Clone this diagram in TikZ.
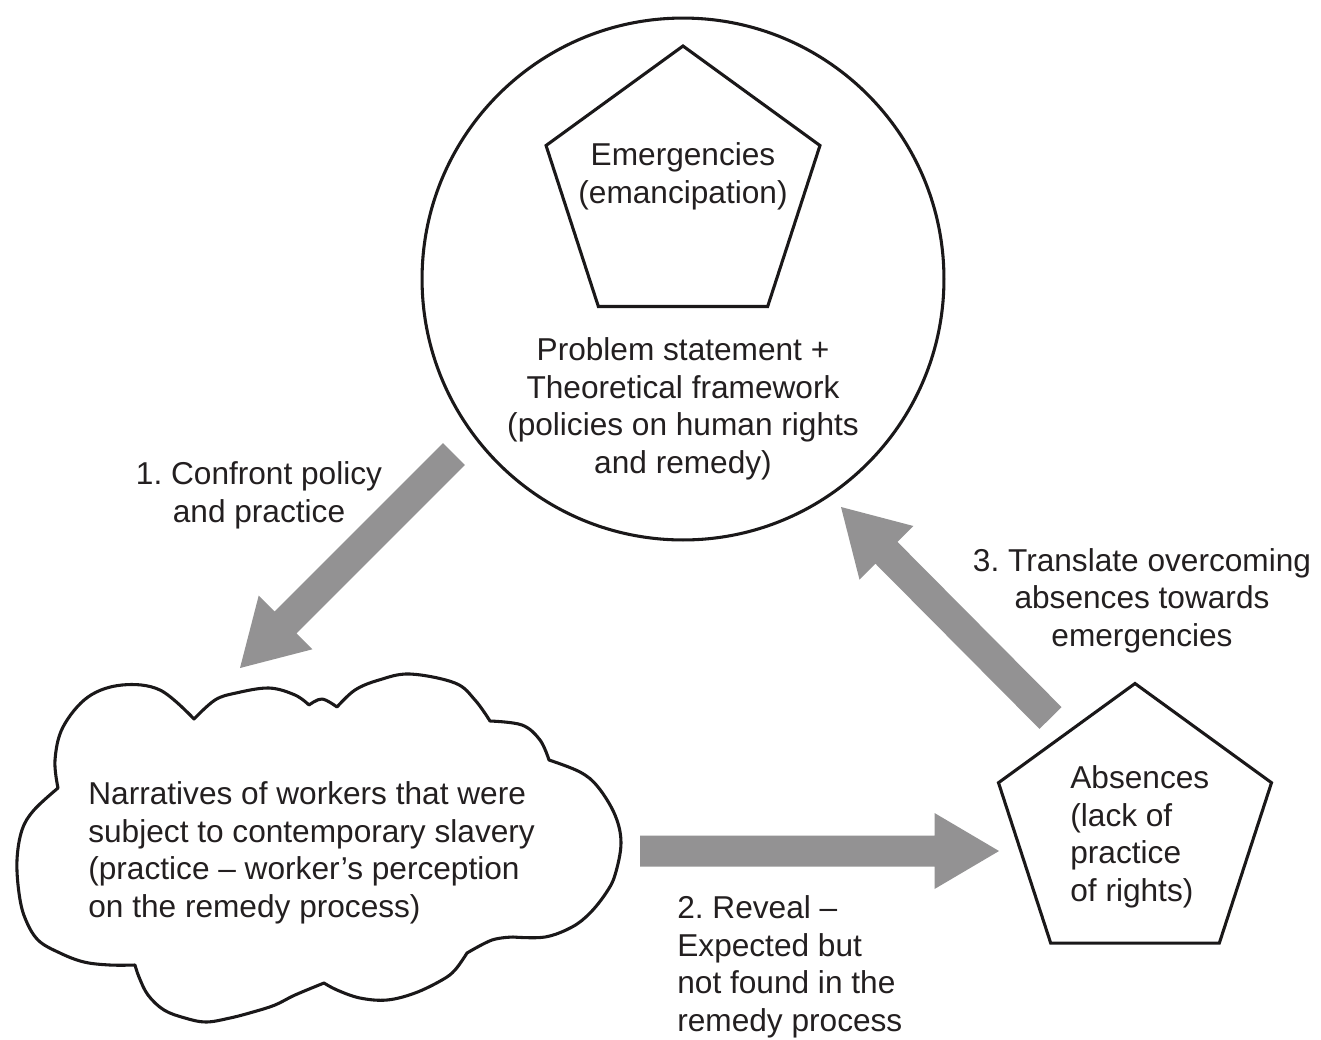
\documentclass[tikz,border=0pt]{standalone}
\usepackage{fontspec}
\setmainfont{Liberation Sans}
\frenchspacing
\usetikzlibrary{calc}
\definecolor{arrowgray}{RGB}{147,146,147}
\definecolor{inkline}{RGB}{26,24,25}
\definecolor{inktext}{RGB}{35,31,32}
\newcommand\myblockarrow[2]{%
  \fill[arrowgray]
    ($(#1)!0.31cm!90:(#2)$) --
    ($(#2)!1.29cm!(#1)!0.31cm!90:(#2)$) --
    ($(#2)!1.29cm!(#1)!0.76cm!90:(#2)$) --
    (#2) --
    ($(#2)!1.29cm!(#1)!0.76cm!-90:(#2)$) --
    ($(#2)!1.29cm!(#1)!0.31cm!-90:(#2)$) --
    ($(#1)!0.31cm!-90:(#2)$) -- cycle;}
\begin{document}
\begin{tikzpicture}[x=0.02cm,y=-0.02cm,
  shapeline/.style={draw=inkline, line width=1.75pt, line join=miter},
  txt/.style={text=inktext, inner sep=0pt, font=\fontsize{18}{21.3}\selectfont\frenchspacing},
  ]
\useasboundingbox (0,0) rectangle (1321,1039);
\fill[white] (0,0) rectangle (1321,1039);

% big circle
\node (circ) [circle, shapeline, minimum size=10.44cm, inner sep=0pt, outer sep=0pt] at (683,279) {};

% pentagon: emergencies
\coordinate (pa1) at (683,46);
\coordinate (pa2) at (819.95,145.5);
\coordinate (pa3) at (767.64,306.5);
\coordinate (pa4) at (598.36,306.5);
\coordinate (pa5) at (546.05,145.5);
\draw[shapeline] (pa1) -- (pa2) -- (pa3) -- (pa4) -- (pa5) -- cycle;

% pentagon: absences
\coordinate (pb1) at (1135,683.5);
\coordinate (pb2) at (1271.5,782.7);
\coordinate (pb3) at (1219.3,943.1);
\coordinate (pb4) at (1050.7,943.1);
\coordinate (pb5) at (998.5,782.7);
\draw[shapeline] (pb1) -- (pb2) -- (pb3) -- (pb4) -- (pb5) -- cycle;

% cloud
\draw[shapeline, line join=round]
  plot[smooth, tension=0.6] coordinates {(58,788) (55,760) (63,727) (88,697) (122,685) (160,690) (194,719)}
  -- plot[smooth, tension=0.6] coordinates {(194,719) (215,700) (236,693) (269,688) (295,695) (309,705)}
  -- plot[smooth, tension=0.6] coordinates {(309,705) (322,699) (337,707)}
  -- plot[smooth, tension=0.6] coordinates {(337,707) (355,690) (379,680) (410,674) (455,683) (475,700) (490,721)}
  -- plot[smooth, tension=0.6] coordinates {(490,721) (522,725) (540,740) (549,760)}
  -- plot[smooth, tension=0.6] coordinates {(549,760) (580,772) (598,787) (615,815) (621,843) (615,875) (606,893) (590,913) (572,927) (545,937) (513,937)}
  -- plot[smooth, tension=0.6] coordinates {(513,937) (492,940) (467,953)}
  -- plot[smooth, tension=0.6] coordinates {(467,953) (455,970) (442,980) (415,993) (387,1000) (360,998) (337,990) (324,983)}
  -- plot[smooth, tension=0.6] coordinates {(324,983) (295,995) (275,1005) (253,1012) (230,1018) (206,1022) (185,1018) (164,1010) (148,995) (139,977) (135,965)}
  -- plot[smooth, tension=0.6] coordinates {(135,965) (110,965) (84,962) (60,953) (38,940) (25,918) (19,893) (17,860) (22,830) (34,810) (58,788)}
  -- cycle;

% texts (anchor = baseline of the last line)
\node (emerg) [txt, align=center, anchor=base] at (683,203) {Emergencies\\(emancipation)};
\node (prob) [txt, align=center, anchor=base] at (683,473) {Problem statement +\\Theoretical framework\\(policies on human rights\\and remedy)};
\node (narr) [txt, align=left, anchor=base west] at (88,917) {Narratives of workers that were\\subject to contemporary slavery\\(practice -- worker’s perception\\on the remedy process)};
\node (absn) [txt, align=left, anchor=base west] at (1070,901) {Absences\\(lack of\\practice\\of rights)};
\node (confront) [txt, align=center, anchor=base] at (259,522) {1. Confront policy\\and practice};
\node (reveal) [txt, align=left, anchor=base west] at (677,1031) {2. Reveal --\\Expected but\\not found in the\\remedy process};
\node (transl) [txt, align=center, anchor=base] at (1142,646) {3. Translate overcoming\\absences towards\\emergencies};

% block arrows
\coordinate (a1s) at (454,454);
\coordinate (a1e) at (240,668);
\coordinate (a2s) at (640,851);
\coordinate (a2e) at (999,851);
\coordinate (a3s) at (1050.5,718);
\coordinate (a3e) at (841,507);
\myblockarrow{a1s}{a1e}
\myblockarrow{a2s}{a2e}
\myblockarrow{a3s}{a3e}
\end{tikzpicture}
\end{document}
